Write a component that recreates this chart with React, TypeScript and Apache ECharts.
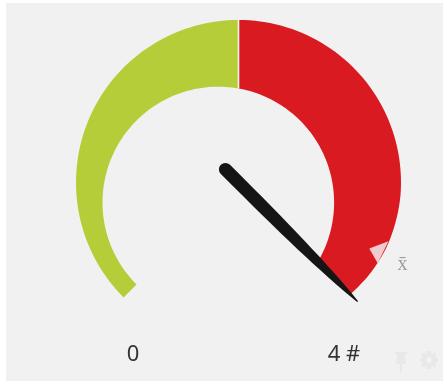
import React, { useEffect, useRef } from "react";
import * as echarts from "echarts";

const scaleMin = 0;
const scaleMax = 4;
const currentValue = 4;
const averageValue = 3.72;
const unitLabel = "#";
const averageLabel = "x\u0304";
const bandStarts = [0, 2];
const bandEnds = [2, 4];
const bandColors = ["#b5cd38", "#d91b21"];
const outerEdgeValues = [0, 3.4, 3.7, 3.85, 4];
const outerRadii = [162.5, 162.5, 161.5, 160, 158];

const CX = 238.5;
const CY = 182.5;
// the hollow of the gauge is a circle that sits off the gauge's centre
const HOLE_DX = -20.2;
const HOLE_DY = 20;
const HOLE_R = 115.8;

function innerRadiusAt(v: number) {
  const deg = 225 - ((v - scaleMin) / (scaleMax - scaleMin)) * 270;
  const t = (deg * Math.PI) / 180;
  const dot = HOLE_DX * Math.cos(t) - HOLE_DY * Math.sin(t);
  return dot + Math.sqrt(HOLE_R * HOLE_R - HOLE_DX * HOLE_DX - HOLE_DY * HOLE_DY + dot * dot);
}

function outerRadiusAt(v: number) {
  let i = 0;
  while (i < outerEdgeValues.length - 2 && v > outerEdgeValues[i + 1]) i++;
  const t = (v - outerEdgeValues[i]) / (outerEdgeValues[i + 1] - outerEdgeValues[i]);
  return outerRadii[i] + (outerRadii[i + 1] - outerRadii[i]) * t;
}

const needlePath =
  "path://M-0.7 0 L0.7 0 C5.5 50 6.5 100 6.5 187 A6.5 6.5 0 0 1 -6.5 187 C-6.5 100 -5.5 50 -0.7 0 Z";

echarts.graphic.registerShape(
  "pinIcon",
  echarts.graphic.extendPath("M0 0H12V2H10V9L12 12H7V20H5V12H0L2 9V2H0Z", {}) as any
);

export default function App() {
  const ref = useRef<HTMLDivElement>(null);
  useEffect(() => {
    const chart = echarts.init(ref.current!, undefined, { renderer: "svg" });
    const gearX = 429;
    const gearY = 360;
    const iconColor = "#e8e8e8";
    chart.setOption({
      animation: false,
      polar: { center: [CX, CY], radius: 200 },
      angleAxis: {
        type: "value",
        min: scaleMin,
        max: ((scaleMax - scaleMin) * 360) / 270,
        startAngle: 225,
        clockwise: true,
        show: false,
      },
      radiusAxis: { type: "value", min: 0, max: 200, show: false },
      series: [
        {
          type: "custom",
          coordinateSystem: "polar",
          z: 2,
          clip: false,
          silent: true,
          data: bandStarts.map((s, i) => [s, bandEnds[i]]),
          renderItem: (params: any, api: any) => {
            const s = api.value(0);
            const e = api.value(1);
            const pts: number[][] = [];
            const n = 70;
            for (let k = 0; k <= n; k++) {
              const v = s + ((e - s) * k) / n;
              pts.push(api.coord([outerRadiusAt(v), v]));
            }
            for (let k = n; k >= 0; k--) {
              const v = s + ((e - s) * k) / n;
              pts.push(api.coord([innerRadiusAt(v), v]));
            }
            return {
              type: "polygon",
              shape: { points: pts },
              style: { fill: bandColors[params.dataIndex] },
            };
          },
        },
        {
          type: "custom",
          coordinateSystem: "polar",
          z: 3,
          clip: false,
          silent: true,
          data: [[bandEnds[0]]],
          renderItem: (_p: any, api: any) => {
            const v = api.value(0);
            const a = api.coord([innerRadiusAt(v), v]);
            const b = api.coord([outerRadiusAt(v), v]);
            return {
              type: "line",
              shape: { x1: a[0], y1: a[1], x2: b[0], y2: b[1] },
              style: { stroke: "#f6f6f0", lineWidth: 1.6 },
            };
          },
        },
        {
          type: "custom",
          coordinateSystem: "polar",
          z: 4,
          clip: false,
          silent: true,
          data: [[averageValue]],
          renderItem: (_p: any, api: any) => {
            const v = api.value(0);
            const p1 = api.coord([161, v - 0.07]);
            const p2 = api.coord([161, v + 0.06]);
            const p3 = api.coord([146.5, v + 0.01]);
            const t = api.coord([182.5, v]);
            return {
              type: "group",
              children: [
                { type: "polygon", shape: { points: [p1, p2, p3] }, style: { fill: "#f2c9cc" } },
                {
                  type: "text",
                  x: t[0],
                  y: t[1],
                  style: {
                    text: averageLabel,
                    fill: "#9c9c9c",
                    font: '20px "Liberation Serif"',
                    align: "center",
                    verticalAlign: "middle",
                  },
                },
              ],
            };
          },
        },
        {
          type: "gauge",
          z: 5,
          silent: true,
          center: [CX, CY],
          radius: 162.5,
          startAngle: 225,
          endAngle: -45,
          min: scaleMin,
          max: scaleMax,
          splitNumber: 1,
          axisLine: { show: false },
          splitLine: { show: false },
          axisTick: { show: false },
          axisLabel: { show: false },
          pointer: {
            show: true,
            icon: needlePath,
            width: 13,
            length: 193.5,
            offsetCenter: [0, 25],
            itemStyle: { color: "#151515" },
          },
          title: { show: false },
          anchor: { show: false },
          detail: {
            show: true,
            offsetCenter: [105.5, 169],
            formatter: "{value} " + unitLabel,
            color: "#333",
            fontSize: 22,
            fontWeight: "normal",
            fontFamily: "Noto Sans",
          },
          data: [{ value: currentValue }],
        },
      ],
      graphic: [
        {
          type: "text",
          x: 133,
          y: 351.5,
          style: {
            text: String(scaleMin),
            fill: "#333",
            font: '22px "Noto Sans"',
            align: "center",
            verticalAlign: "middle",
          },
        },
        { type: "pinIcon", x: 395, y: 352, style: { fill: iconColor } },
        { type: "line", shape: { x1: gearX - 9, y1: gearY, x2: gearX + 9, y2: gearY }, style: { stroke: iconColor, lineWidth: 4 } },
        { type: "line", shape: { x1: gearX, y1: gearY - 9, x2: gearX, y2: gearY + 9 }, style: { stroke: iconColor, lineWidth: 4 } },
        { type: "line", shape: { x1: gearX - 6.4, y1: gearY - 6.4, x2: gearX + 6.4, y2: gearY + 6.4 }, style: { stroke: iconColor, lineWidth: 4 } },
        { type: "line", shape: { x1: gearX - 6.4, y1: gearY + 6.4, x2: gearX + 6.4, y2: gearY - 6.4 }, style: { stroke: iconColor, lineWidth: 4 } },
        { type: "ring", shape: { cx: gearX, cy: gearY, r: 7, r0: 3 }, style: { fill: iconColor } },
        { type: "circle", shape: { cx: gearX, cy: gearY, r: 3 }, style: { fill: "#f1f1f1" } },
      ],
    });
    return () => chart.dispose();
  }, []);
  return (
    <div style={{ position: "fixed", left: 0, top: 0, width: 443, height: 381, background: "#fff", overflow: "hidden" }}>
      <div style={{ position: "absolute", left: 6, top: 3, width: 437, height: 378, background: "#f1f1f1" }} />
      <div ref={ref} style={{ position: "absolute", left: 0, top: 0, width: 443, height: 381, filter: "blur(0.6px)" }} />
    </div>
  );
}
